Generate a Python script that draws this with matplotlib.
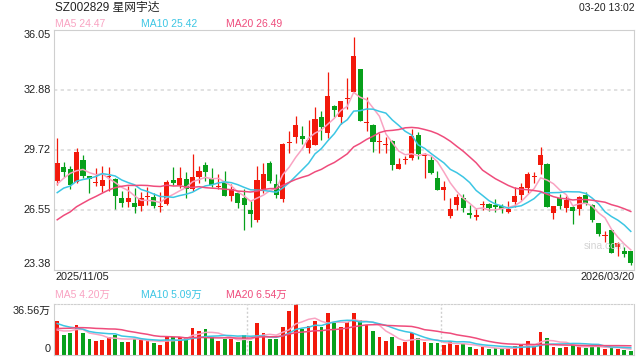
import numpy as np
import pandas as pd
import matplotlib
matplotlib.use("Agg")
from matplotlib import pyplot as plt

plt.rcParams['font.family'] = ['Liberation Sans', 'Noto Sans CJK SC', 'DejaVu Sans']

# daily K line SZ002829, 2025/11/05 - 2026/03/20 (90 trading days)
opens = [28.09, 28.82, 28.71, 28.04, 29.19, 28.34, 27.99, 27.83, 28.30, 28.18,
         27.18, 26.97, 26.92, 26.77, 27.25, 27.23, 26.72, 26.86, 28.13, 27.85,
         28.18, 27.67, 28.29, 28.92, 28.18, 27.74, 28.02, 27.30, 27.46, 27.18,
         26.55, 26.04, 27.65, 29.03, 27.90, 27.14, 30.07, 30.42, 30.45, 29.84,
         29.98, 31.44, 30.61, 32.04, 31.46, 32.39, 32.78, 33.99, 31.12, 31.02,
         30.15, 30.00, 30.19, 28.69, 29.17, 29.31, 30.51, 29.40, 29.19, 28.24,
         27.62, 26.25, 26.81, 27.16, 26.37, 26.19, 26.81, 26.86, 26.81, 26.77,
         26.46, 26.98, 27.34, 27.69, 28.27, 28.94, 28.97, 26.37, 27.20, 26.67,
         26.69, 26.60, 27.34, 26.81, 25.84, 25.17, 25.49, 24.57, 24.38, 24.38]
highs = [30.33, 29.10, 28.89, 29.80, 29.45, 28.36, 28.75, 28.89, 28.80, 28.22,
         27.55, 27.81, 27.71, 27.51, 27.74, 27.46, 27.48, 28.13, 28.83, 28.83,
         28.57, 29.50, 28.89, 29.08, 28.76, 28.45, 28.60, 27.92, 27.55, 27.64,
         27.02, 28.87, 29.01, 29.13, 28.45, 30.10, 30.72, 31.51, 30.98, 31.30,
         31.97, 31.77, 33.81, 32.11, 32.32, 33.50, 35.70, 33.99, 32.53, 31.07,
         30.63, 30.40, 30.24, 29.31, 29.41, 30.82, 30.65, 29.57, 29.41, 28.61,
         28.10, 27.18, 27.37, 27.37, 26.81, 26.58, 27.02, 26.90, 27.11, 26.86,
         27.04, 27.74, 27.95, 28.57, 28.53, 29.85, 29.01, 26.76, 27.37, 27.30,
         26.76, 27.30, 27.48, 26.85, 25.84, 25.45, 25.49, 24.84, 24.61, 24.38]
lows = [27.87, 28.31, 27.64, 27.95, 28.22, 27.46, 27.81, 27.48, 27.55, 26.58,
        26.72, 26.72, 26.40, 26.49, 26.81, 26.63, 26.42, 26.81, 27.87, 27.69,
        27.16, 27.57, 27.99, 28.10, 27.74, 27.67, 27.30, 27.02, 26.67, 25.49,
        25.67, 25.91, 27.46, 27.99, 27.16, 26.97, 29.57, 30.10, 30.03, 29.57,
        29.98, 30.24, 30.35, 31.44, 31.09, 31.88, 32.78, 31.26, 30.74, 29.63,
        29.57, 29.57, 28.66, 28.69, 28.96, 29.19, 29.24, 28.25, 28.43, 27.62,
        27.07, 26.11, 26.55, 26.46, 26.14, 26.02, 26.55, 26.51, 26.46, 26.37,
        26.37, 26.72, 27.07, 27.43, 27.95, 28.43, 26.69, 26.05, 26.60, 26.46,
        25.79, 26.28, 26.81, 25.93, 25.17, 24.87, 24.26, 24.12, 24.08, 23.64]
closes = [29.03, 28.57, 27.88, 29.61, 28.36, 28.17, 28.03, 28.13, 28.35, 27.30,
          26.93, 27.18, 26.72, 27.16, 27.29, 26.77, 26.76, 28.04, 27.99, 28.24,
          27.64, 28.29, 28.61, 28.57, 27.85, 27.78, 27.30, 27.65, 26.93, 26.81,
          26.35, 28.13, 28.45, 28.10, 27.36, 30.03, 30.10, 31.03, 30.31, 30.24,
          31.35, 30.95, 32.57, 31.83, 32.30, 32.42, 34.68, 31.26, 31.19, 30.15,
          30.19, 30.03, 28.94, 28.97, 29.19, 30.45, 29.50, 29.43, 28.48, 27.62,
          27.74, 26.60, 27.21, 26.67, 26.28, 26.28, 26.84, 26.67, 26.70, 26.60,
          26.62, 27.30, 27.74, 28.45, 28.29, 29.45, 26.72, 26.76, 26.78, 27.07,
          26.51, 27.25, 26.93, 26.02, 25.26, 25.20, 24.26, 24.82, 24.21, 23.73]
# volume in 万 shares
volumes = [24.7, 14.1, 15.5, 21.8, 15.5, 11.6, 10.2, 10.9, 13.1, 14.5,
           9.0, 9.5, 11.6, 11.4, 10.0, 8.3, 7.3, 13.1, 12.6, 12.6,
           12.6, 19.6, 17.4, 18.9, 12.6, 10.2, 11.2, 11.2, 9.0, 14.5,
           9.7, 22.8, 15.5, 11.6, 11.6, 20.3, 31.4, 36.56, 18.9, 20.8,
           24.2, 20.3, 30.0, 22.8, 20.3, 23.7, 30.0, 25.4, 21.3, 17.0,
           12.6, 9.7, 12.6, 6.8, 9.0, 16.0, 12.4, 9.0, 8.3, 8.3,
           7.3, 9.7, 7.3, 8.0, 5.9, 4.4, 5.4, 4.4, 4.9, 4.4,
           4.7, 6.4, 7.3, 9.7, 6.8, 16.2, 12.4, 5.9, 5.1, 5.9,
           7.3, 5.9, 5.1, 6.4, 5.9, 4.4, 5.4, 4.4, 3.7, 3.0]

# the 19 days before the window, only needed so the MAs start at the left edge
prev_closes = [24.0, 24.2, 24.1, 24.5, 24.4, 24.8, 24.6, 25.0, 24.9, 25.5,
               26.2, 26.8, 27.0, 27.5, 27.55, 27.07, 26.58, 28.91, 28.01]
prev_volumes = [12, 14, 13, 16, 15, 17, 14, 18, 16, 19,
                30, 26, 28, 24, 28, 18, 15, 17, 15.3]

price_ticks = [36.05, 32.88, 29.72, 26.55, 23.38]
vol_top = 36.56
title = 'SZ002829 星网宇达'
stamp = '03-20 13:02'
first_date = '2025/11/05'
last_date = '2026/03/20'
ma_labels = ['MA5 24.47', 'MA10 25.42', 'MA20 26.49']
vol_ma_labels = ['MA5 4.20万', 'MA10 5.09万', 'MA20 6.54万']

RED = '#f2190b'
GREEN = '#07a01b'
MA_COLORS = ['#f9a3c2', '#3cc6e4', '#ef4c7c']
BORDER = '#cfcfcf'

W, H = 640, 360
def px(x, y):
    return x / W, 1 - y / H

o = np.array(opens); c = np.array(closes)
hi = np.array(highs); lo = np.array(lows)
n = len(c)
x = np.arange(n)
col = np.where(c >= o, RED, GREEN)

all_c = pd.Series(prev_closes + closes)
all_v = pd.Series(prev_volumes + volumes)
k = len(prev_closes)
ma = [all_c.rolling(w).mean().values[k:] for w in (5, 10, 20)]
vma = [all_v.rolling(w).mean().values[k:] for w in (5, 10, 20)]

fig = plt.figure(figsize=(W / 100, H / 100), dpi=100)
ax = fig.add_axes([54 / W, 90 / H, 580 / W, 240 / H])
axv = fig.add_axes([54 / W, 5 / H, 580 / W, 51 / H])

#price panel
for p in price_ticks[1:-1]:
    ax.axhline(p, color='#dcdcdc', lw=1.2, ls=(0, (2, 2)), zorder=0)
ax.vlines(x, lo, hi, colors=col, lw=0.9, zorder=2)
ax.bar(x, np.maximum(np.abs(c - o), 0.05), bottom=np.minimum(o, c),
       width=0.78, color=col, lw=0, zorder=2)
for m, mc in zip(ma, MA_COLORS):
    ax.plot(x, m, color=mc, lw=1.1, zorder=3)
ax.set_xlim(-0.5, n - 0.5)
ax.set_ylim(price_ticks[-1], price_ticks[0])
ax.set_xticks([]); ax.set_yticks([])
for s in ax.spines.values():
    s.set_color(BORDER)
ax.text(0.985, 0.1, 'sina.com', transform=ax.transAxes, ha='right', va='center',
        fontsize=7.5, color='#d4d4d4')

#volume panel
axv.bar(x, volumes, width=0.6, color=col, lw=0, zorder=2)
for m, mc in zip(vma, MA_COLORS):
    axv.plot(x, m, color=mc, lw=1.1, zorder=3)
for b in (29.5, 59.5):
    axv.axvline(b, color='#d0d0d0', lw=1, ls=(0, (1.5, 1.5)), zorder=0)
axv.set_xlim(-0.5, n - 0.5)
axv.set_ylim(0, vol_top)
axv.set_xticks([]); axv.set_yticks([])
for s in axv.spines.values():
    s.set_color(BORDER)
axv.spines['top'].set_linestyle((0, (1.5, 1.5)))

#texts
fig.text(*px(55, 8), title, fontsize=8.5, color='#222222', va='center', ha='left')
fig.text(*px(635, 8), stamp, fontsize=7.5, color='#222222', va='center', ha='right')
for lab, xx, mc in zip(ma_labels, (55, 141, 226), MA_COLORS):
    fig.text(*px(xx, 24), lab, fontsize=7.5, color=mc, va='center', ha='left')
for lab, xx, mc in zip(vol_ma_labels, (55, 141, 226), MA_COLORS):
    fig.text(*px(xx, 295), lab, fontsize=7.5, color=mc, va='center', ha='left')
tick_y = [35, 90, 150, 210, 264]
for p, yy in zip(price_ticks, tick_y):
    fig.text(*px(51, yy), '%.2f' % p, fontsize=7.8, color='#222222', va='center', ha='right')
fig.text(*px(51, 311), '%.2f万' % vol_top, fontsize=7.8, color='#222222', va='center', ha='right')
fig.text(*px(51, 349), '0', fontsize=7.8, color='#222222', va='center', ha='right')
fig.text(*px(55, 277), first_date, fontsize=7.8, color='#222222', va='center', ha='left')
fig.text(*px(635, 277), last_date, fontsize=7.8, color='#222222', va='center', ha='right')

fig.savefig('out.png', dpi=100)
